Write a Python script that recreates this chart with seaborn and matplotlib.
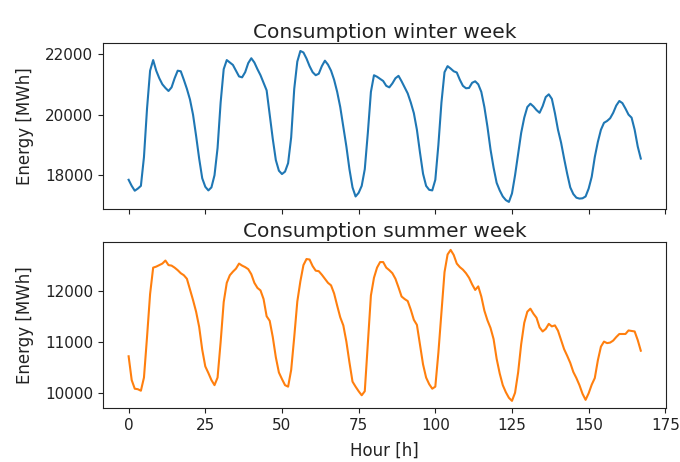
import matplotlib
matplotlib.use("Agg")
import matplotlib.pyplot as plt
import seaborn as sns
import pandas as pd

hours = list(range(168))

winter = [
    17850, 17650, 17490, 17560, 17650, 18600, 20200, 21450, 21800, 21450,
    21200, 21000, 20880, 20780, 20900, 21200, 21450, 21430, 21150, 20850,
    20500, 20000, 19300, 18550, 17900, 17620, 17500, 17600, 18000, 18900,
    20400, 21500, 21800, 21720, 21640, 21450, 21260, 21230, 21400, 21700,
    21860, 21720, 21500, 21300, 21050, 20800, 20000, 19200, 18500, 18150,
    18040, 18120, 18400, 19250, 20850, 21750, 22100, 22050, 21850, 21600,
    21400, 21300, 21350, 21600, 21780, 21650, 21450, 21150, 20750, 20250,
    19600, 18950, 18200, 17600, 17300, 17420, 17650, 18200, 19400, 20750,
    21300, 21250, 21180, 21110, 20950, 20900, 21030, 21200, 21280, 21100,
    20900, 20700, 20400, 20050, 19500, 18750, 18050, 17650, 17520, 17500,
    17850, 19000, 20400, 21400, 21600, 21520, 21430, 21390, 21150, 20950,
    20870, 20880, 21050, 21100, 21000, 20750, 20250, 19600, 18850, 18250,
    17750, 17500, 17300, 17180, 17120, 17400, 18000, 18700, 19400, 19900,
    20250, 20360, 20270, 20150, 20060, 20280, 20580, 20670, 20520, 20050,
    19500, 19080, 18550, 18050, 17600, 17380, 17260, 17230, 17240, 17300,
    17560, 17950, 18600, 19100, 19500, 19730, 19790, 19880, 20060, 20300,
    20450, 20380, 20200, 20000, 19900, 19500, 18950, 18550,
]

summer = [
    10720, 10250, 10080, 10070, 10040, 10300, 11100, 11950, 12470, 12490,
    12520, 12550, 12610, 12520, 12510, 12470, 12420, 12360, 12320, 12250,
    12040, 11830, 11600, 11300, 10850, 10520, 10390, 10250, 10150, 10300,
    11000, 11790, 12170, 12320, 12390, 12450, 12550, 12510, 12480, 12440,
    12340, 12170, 12070, 12020, 11850, 11510, 11420, 11100, 10700, 10400,
    10270, 10150, 10120, 10450, 11100, 11800, 12200, 12520, 12640, 12630,
    12500, 12410, 12400, 12330, 12250, 12170, 12120, 11960, 11720, 11490,
    11330, 11010, 10600, 10220, 10120, 10030, 9950, 10030, 10990, 11920,
    12270, 12470, 12580, 12580, 12470, 12420, 12360, 12250, 12080, 11900,
    11850, 11810, 11640, 11440, 11340, 10950, 10560, 10300, 10170, 10080,
    10120, 10790, 11590, 12380, 12730, 12820, 12720, 12550, 12480, 12430,
    12360, 12270, 12140, 12030, 12100, 11900, 11620, 11430, 11280, 11060,
    10670, 10380, 10150, 10010, 9900, 9840, 10000, 10400, 10960, 11380,
    11600, 11660, 11560, 11480, 11290, 11210, 11260, 11360, 11310, 11330,
    11225, 11040, 10860, 10730, 10590, 10410, 10290, 10150, 9980, 9860,
    9990, 10160, 10290, 10640, 10910, 11010, 10980, 10990, 11030, 11100,
    11160, 11160, 11160, 11230, 11220, 11210, 11040, 10830,
]

titles = ["Consumption winter week", "Consumption summer week"]
ylabel = "Energy [MWh]"
xlabel = "Hour [h]"
xticks = [0, 25, 50, 75, 100, 125, 150, 175]
yticks_winter = [18000, 20000, 22000]
yticks_summer = [10000, 11000, 12000]

df = pd.DataFrame({"hour": hours, "winter": winter, "summer": summer})

fig, axes = plt.subplots(2, 1, sharex=True, figsize=(6.8, 4.62), dpi=100)
fig.subplots_adjust(left=0.1515, right=0.980, top=0.906, bottom=0.116, hspace=0.198)

sns.lineplot(data=df, x="hour", y="winter", ax=axes[0], color="#1f77b4", linewidth=1.5)
sns.lineplot(data=df, x="hour", y="summer", ax=axes[1], color="#ff7f0e", linewidth=1.5)

for ax, t in zip(axes, titles):
    ax.set_title(t, fontsize=14.5, color="#222222", pad=4)
    ax.set_ylabel(ylabel, fontsize=12, color="#222222", labelpad=8)
    ax.set_xlabel("")
    ax.tick_params(labelsize=11, colors="#222222")
    for s in ax.spines.values():
        s.set_color("#222222")
axes[1].set_xlabel(xlabel, fontsize=12, color="#222222", labelpad=6)
axes[1].set_xticks(xticks)
axes[0].set_yticks(yticks_winter)
axes[1].set_yticks(yticks_summer)

fig.savefig("out.png", dpi=100)
